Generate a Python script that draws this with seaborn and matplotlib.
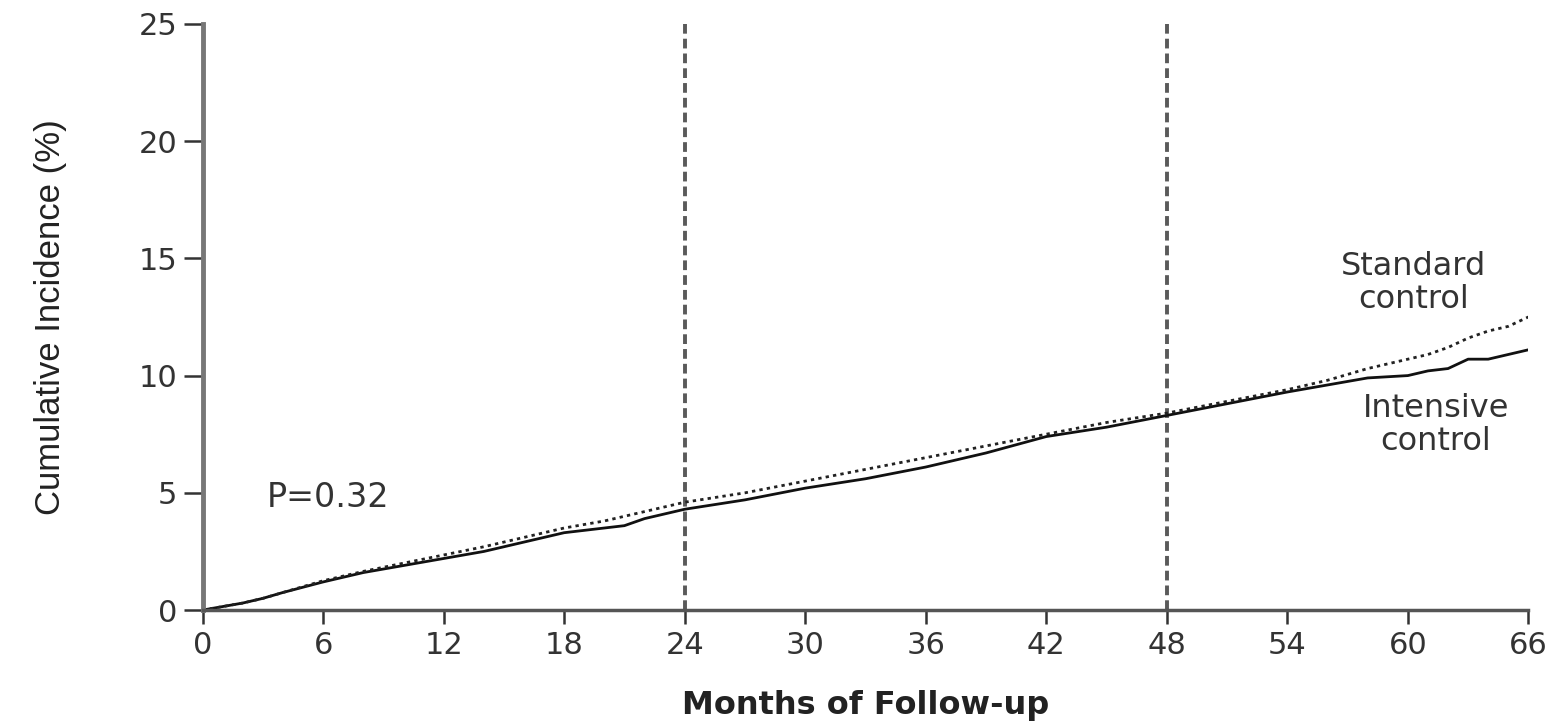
import pandas as pd
import numpy as np
from matplotlib import pyplot as plt
import seaborn as sns

months = [0, 1, 2, 3, 4, 6, 8, 10, 12, 14, 16, 18, 20, 21, 22, 24, 27, 30, 33, 36,
          39, 42, 45, 48, 51, 54, 56, 58, 60, 61, 62, 63, 64, 65, 66]
intensive = [0, 0.15, 0.3, 0.5, 0.75, 1.2, 1.6, 1.9, 2.2, 2.5, 2.9, 3.3, 3.5, 3.6, 3.9,
             4.3, 4.7, 5.2, 5.6, 6.1, 6.7, 7.4, 7.8, 8.3, 8.8, 9.3, 9.6, 9.9, 10.0,
             10.2, 10.3, 10.7, 10.7, 10.9, 11.1]
standard = [0, 0.15, 0.3, 0.5, 0.75, 1.25, 1.65, 2.0, 2.35, 2.7, 3.1, 3.5, 3.8, 4.0, 4.2,
            4.6, 5.0, 5.5, 6.0, 6.5, 7.0, 7.5, 8.0, 8.4, 8.9, 9.4, 9.8, 10.3, 10.7,
            10.9, 11.2, 11.6, 11.9, 12.1, 12.5]
x_ticks = list(range(0, 67, 6))
y_ticks = [0, 5, 10, 15, 20, 25]
divider_months = [24, 48]


def main():
    sns.set_style("ticks")
    plt.rcParams['font.family'] = ['DejaVu Sans']

    df = pd.DataFrame({"month": months, "Intensive": intensive, "Standard": standard})

    fig = plt.figure(figsize=(15.58, 7.22), dpi=100)
    ax = fig.add_axes([0.130, 0.155, 0.851, 0.812])

    sns.lineplot(data=df, x="month", y="Intensive", ax=ax, color="#111111", lw=2)
    sns.lineplot(data=df, x="month", y="Standard", ax=ax, color="#222222", lw=2,
                 linestyle=(0, (1.2, 1.5)))

    for m in divider_months:
        ax.axvline(m, color="#5a5a5a", lw=2.8, linestyle=(0, (2.5, 1.3)), zorder=0)

    ax.set_xlim(0, 66)
    ax.set_ylim(0, 25)
    ax.set_xticks(x_ticks)
    ax.set_yticks(y_ticks)
    ax.tick_params(axis="both", labelsize=22, labelcolor="#333333", color="#333333",
                   width=1.8, direction="out")
    ax.tick_params(axis="x", length=10, pad=5)
    ax.tick_params(axis="y", length=14, pad=4)
    for s in ["top", "right"]:
        ax.spines[s].set_visible(False)
    ax.spines["left"].set_color("#777777")
    ax.spines["left"].set_linewidth(3.5)
    ax.spines["bottom"].set_color("#555555")
    ax.spines["bottom"].set_linewidth(2.5)

    ax.set_xlabel("Months of Follow-up", fontsize=23, fontweight="bold", color="#222222",
                  labelpad=22)
    ax.set_ylabel("Cumulative Incidence (%)", fontsize=25, color="#222222", labelpad=52,
                  family=["Liberation Sans", "DejaVu Sans"])

    ax.text(3.2, 4.8, "P=0.32", fontsize=24, color="#333333", va="center")
    ax.text(60.3, 13.95, "Standard\ncontrol", fontsize=23, color="#333333", ha="center",
            va="center", linespacing=1.1)
    ax.text(61.4, 7.9, "Intensive\ncontrol", fontsize=23, color="#333333", ha="center",
            va="center", linespacing=1.1, clip_on=False)

    fig.savefig("out.png", dpi=100)


if __name__ == "__main__":
    main()
